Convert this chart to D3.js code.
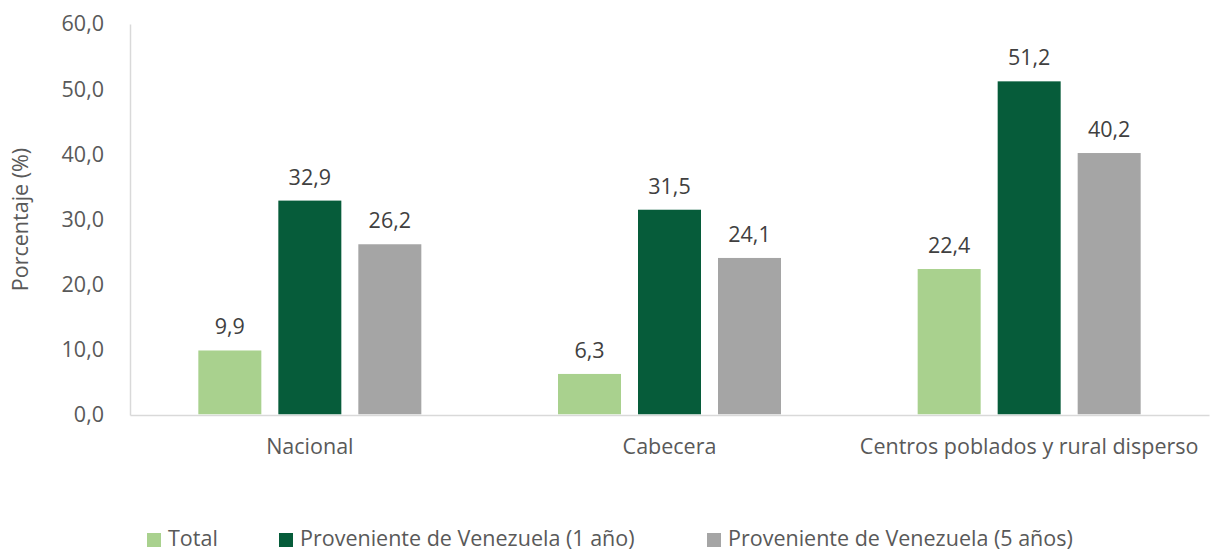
<!DOCTYPE html>
<html><head><meta charset="utf-8">
<script src="https://cdn.jsdelivr.net/npm/d3@7"></script>
<style>body{margin:0;background:#fff;} text{font-family:"Open Sans","Noto Sans",sans-serif;}</style>
</head><body>
<svg id="c" width="1212" height="553"></svg>
<script>
const categories = ["Nacional", "Cabecera", "Centros poblados y rural disperso"];
const seriesNames = ["Total", "Proveniente de Venezuela (1 año)", "Proveniente de Venezuela (5 años)"];
const total = [9.9, 6.3, 22.4];
const venezuela1 = [32.9, 31.5, 51.2];
const venezuela5 = [26.2, 24.1, 40.2];
const yTicks = [0, 10, 20, 30, 40, 50, 60];
const colors = ["#A9D18E", "#065C3A", "#A5A5A5"];

const svg = d3.select("#c");
const m = {l:130, r:1209, t:24, b:415};
const FS = "21.5px";
const x = d3.scaleBand().domain(categories).range([m.l, m.r]).paddingInner(0).paddingOuter(0);
const y = d3.scaleLinear().domain([0,60]).range([m.b, m.t]);
const fmt = v => d3.format(".1f")(v).replace(".", ",");
const series = [total, venezuela1, venezuela5];
const bw = 63, step = 80;

// axes
const ya = svg.append("g").attr("transform", `translate(${m.l},0)`)
  .call(d3.axisLeft(y).tickValues(yTicks).tickFormat(fmt).tickSize(0).tickPadding(26));
ya.select(".domain").attr("stroke", "#D9D9D9").attr("stroke-width", 1.5);
ya.selectAll("text").attr("fill", "#595959").style("font-size", FS);

const xa = svg.append("g").attr("transform", `translate(0,${m.b})`)
  .call(d3.axisBottom(x).tickSize(0).tickPadding(24));
xa.select(".domain").attr("stroke", "#D9D9D9").attr("stroke-width", 1.5);
xa.selectAll("text").attr("fill", "#595959").style("font-size", FS);

svg.append("text").attr("transform", `translate(28,${(m.t+m.b)/2}) rotate(-90)`)
  .attr("text-anchor", "middle").attr("fill", "#595959").style("font-size", FS)
  .text("Porcentaje (%)");

series.forEach((vals, si) => {
  const g = svg.append("g");
  categories.forEach((c, ci) => {
    const cx = x(c) + x.bandwidth()/2 + (si-1)*step;
    g.append("rect").attr("x", cx - bw/2).attr("width", bw)
      .attr("y", y(vals[ci])).attr("height", y(0) - y(vals[ci]) - 0.75)
      .attr("fill", colors[si]);
    g.append("text").attr("x", cx).attr("y", y(vals[ci]) - 16)
      .attr("text-anchor", "middle").attr("fill", "#404040").style("font-size", FS)
      .text(fmt(vals[ci]));
  });
});

// legend
const legX = [147, 279, 707];
const lg = svg.append("g");
seriesNames.forEach((n, i) => {
  lg.append("rect").attr("x", legX[i]).attr("y", 533).attr("width", 14).attr("height", 14).attr("fill", colors[i]);
  lg.append("text").attr("x", legX[i] + 21).attr("y", 546).attr("fill", "#595959").style("font-size", FS).text(n);
});
</script>
</body></html>
